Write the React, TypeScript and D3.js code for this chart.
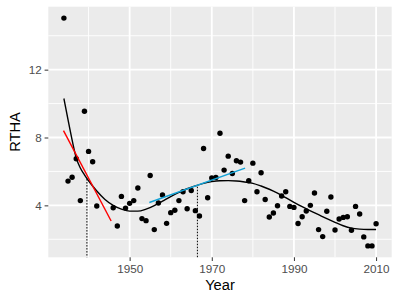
import { useEffect, useRef } from 'react';
import * as d3 from 'd3';

// observed RTHA per year
const years = [
  1934, 1935, 1936, 1937, 1938, 1939, 1940, 1941, 1942,
  1946, 1947, 1948, 1949, 1950, 1951, 1952, 1953, 1954, 1955, 1956, 1957, 1958, 1959,
  1960, 1961, 1962, 1963, 1964, 1965, 1966, 1967, 1968, 1969, 1970, 1971, 1972, 1973,
  1974, 1975, 1976, 1977, 1978, 1979, 1980, 1981, 1982, 1983, 1984, 1985, 1986, 1987,
  1988, 1989, 1990, 1991, 1992, 1993, 1994, 1995, 1996, 1997, 1998, 1999, 2000, 2001,
  2002, 2003, 2004, 2005, 2006, 2007, 2008, 2009, 2010,
];
const rtha = [
  15.04, 5.43, 5.66, 6.75, 4.28, 9.55, 7.18, 6.57, 3.96,
  3.86, 2.78, 4.53, 3.84, 4.12, 4.28, 5.02, 3.22, 3.1, 5.76, 2.57, 4.14, 4.61, 2.94,
  3.57, 3.71, 4.28, 4.8, 3.8, 4.88, 3.69, 3.37, 7.35, 4.45, 5.61, 5.65, 8.25, 6.08,
  6.9, 5.88, 6.63, 6.55, 4.28, 5.45, 6.49, 4.8, 5.92, 4.35, 3.31, 3.55, 3.98, 4.55,
  4.8, 3.94, 3.88, 2.93, 3.33, 3.67, 4.0, 4.73, 2.57, 2.16, 3.65, 4.49, 2.55, 3.2,
  3.29, 3.33, 2.53, 3.94, 3.49, 2.14, 1.61, 1.61, 2.92,
];

// smooth fit
const fitYears = [
  1934, 1935, 1936, 1937, 1938, 1939, 1940, 1942, 1944, 1946, 1948, 1950, 1952, 1954,
  1956, 1958, 1960, 1962, 1964, 1966, 1968, 1970, 1972, 1974, 1976, 1978, 1980, 1982,
  1984, 1986, 1988, 1990, 1992, 1994, 1996, 1998, 2000, 2002, 2004, 2006, 2008, 2010,
];
const fitValues = [
  10.3, 9.05, 7.85, 6.8, 6.2, 5.8, 5.45, 4.85, 4.35, 4.0, 3.78, 3.66, 3.66, 3.78,
  3.98, 4.25, 4.52, 4.76, 4.98, 5.15, 5.3, 5.4, 5.45, 5.46, 5.44, 5.38, 5.3, 5.14,
  4.95, 4.72, 4.45, 4.18, 3.92, 3.68, 3.45, 3.22, 3.0, 2.8, 2.66, 2.6, 2.58, 2.58,
];

// tangent segments
const redYears = [1933.9, 1945.5];
const redValues = [8.41, 3.08];
const blueYears = [1954.8, 1978.1];
const blueValues = [4.17, 6.2];

// dotted drop lines
const dropYears = [1939.6, 1966.5];
const dropValues = [5.55, 5.1];

const xMajor = [1950, 1970, 1990, 2010];
const xMinor = [1940, 1960, 1980, 2000];
const yMajor = [4, 8, 12];
const yMinor = [2, 6, 10, 14];

export default function App() {
  const rootRef = useRef<SVGSVGElement | null>(null);

  useEffect(() => {
    const svgEl = rootRef.current;
    if (!svgEl) return undefined;
    const width = 400;
    const height = 300;
    const panel = { left: 48.3, right: 391.7, top: 6.7, bottom: 257.3 };
    const font = '"Liberation Sans", Arial, sans-serif';

    const svg = d3.select(svgEl);
    svg.selectAll('*').remove();
    svg.append('rect').attr('width', width).attr('height', height).attr('fill', '#ffffff');

    const pad = (ext: [number, number]) => {
      const d = (ext[1] - ext[0]) * 0.05;
      return [ext[0] - d, ext[1] + d];
    };
    const x = d3
      .scaleLinear()
      .domain(pad(d3.extent(years) as [number, number]))
      .range([panel.left, panel.right]);
    const y = d3
      .scaleLinear()
      .domain(pad(d3.extent(rtha) as [number, number]))
      .range([panel.bottom, panel.top]);

    svg
      .append('rect')
      .attr('x', panel.left)
      .attr('y', panel.top)
      .attr('width', panel.right - panel.left)
      .attr('height', panel.bottom - panel.top)
      .attr('fill', '#ebebeb');

    const grid = svg.append('g').attr('stroke', '#ffffff');
    xMinor.forEach(v => {
      grid.append('line').attr('x1', x(v)).attr('x2', x(v)).attr('y1', panel.top).attr('y2', panel.bottom).attr('stroke-width', 0.9);
    });
    yMinor.forEach(v => {
      grid.append('line').attr('y1', y(v)).attr('y2', y(v)).attr('x1', panel.left).attr('x2', panel.right).attr('stroke-width', 0.9);
    });
    xMajor.forEach(v => {
      grid.append('line').attr('x1', x(v)).attr('x2', x(v)).attr('y1', panel.top).attr('y2', panel.bottom).attr('stroke-width', 1.8);
    });
    yMajor.forEach(v => {
      grid.append('line').attr('y1', y(v)).attr('y2', y(v)).attr('x1', panel.left).attr('x2', panel.right).attr('stroke-width', 1.8);
    });

    // points
    svg
      .append('g')
      .selectAll('circle')
      .data(years)
      .join('circle')
      .attr('cx', d => x(d))
      .attr('cy', (d, i) => y(rtha[i]))
      .attr('r', 2.7)
      .attr('fill', '#000000');

    const line = d3
      .line<[number, number]>()
      .x(d => x(d[0]))
      .y(d => y(d[1]));

    svg
      .append('path')
      .attr('d', line.curve(d3.curveMonotoneX)(fitYears.map((v, i) => [v, fitValues[i]] as [number, number])))
      .attr('fill', 'none')
      .attr('stroke', '#000000')
      .attr('stroke-width', 1.4);

    svg
      .append('path')
      .attr('d', line.curve(d3.curveLinear)(redYears.map((v, i) => [v, redValues[i]] as [number, number])))
      .attr('fill', 'none')
      .attr('stroke', '#ff0000')
      .attr('stroke-width', 1.4);

    svg
      .append('path')
      .attr('d', line(blueYears.map((v, i) => [v, blueValues[i]] as [number, number])))
      .attr('fill', 'none')
      .attr('stroke', '#12a2d6')
      .attr('stroke-width', 1.4);

    dropYears.forEach((v, i) => {
      svg
        .append('line')
        .attr('x1', x(v))
        .attr('x2', x(v))
        .attr('y1', y(dropValues[i]))
        .attr('y2', panel.bottom)
        .attr('stroke', '#000000')
        .attr('stroke-width', 1)
        .attr('stroke-dasharray', '1.5,1.5');
    });

    // axes
    const axisX = svg.append('g').attr('transform', `translate(0,${panel.bottom})`);
    axisX.call(d3.axisBottom(x).tickValues(xMajor).tickSize(3.7).tickPadding(3.5).tickFormat(d3.format('d')));
    const axisY = svg.append('g').attr('transform', `translate(${panel.left},0)`);
    axisY.call(d3.axisLeft(y).tickValues(yMajor).tickSize(3.7).tickPadding(2.9).tickFormat(d3.format('d')));
    [axisX, axisY].forEach(a => {
      a.select('.domain').remove();
      a.selectAll('line').attr('stroke', '#333333').attr('stroke-width', 1);
      a.selectAll('text').attr('fill', '#4d4d4d').attr('font-size', '11.7px').attr('font-family', font);
    });

    svg
      .append('text')
      .attr('x', (panel.left + panel.right) / 2)
      .attr('y', 289.5)
      .attr('text-anchor', 'middle')
      .attr('font-family', font)
      .attr('font-size', '14.7px')
      .attr('fill', '#000000')
      .text('Year');

    svg
      .append('text')
      .attr('transform', `translate(19.5,${(panel.top + panel.bottom) / 2}) rotate(-90)`)
      .attr('text-anchor', 'middle')
      .attr('font-family', font)
      .attr('font-size', '14.7px')
      .attr('fill', '#000000')
      .text('RTHA');

    return () => {
      svg.selectAll('*').remove();
    };
  }, []);

  return (
    <svg
      ref={rootRef}
      width={400}
      height={300}
      style={{ position: 'absolute', left: 0, top: 0 }}
    />
  );
}
